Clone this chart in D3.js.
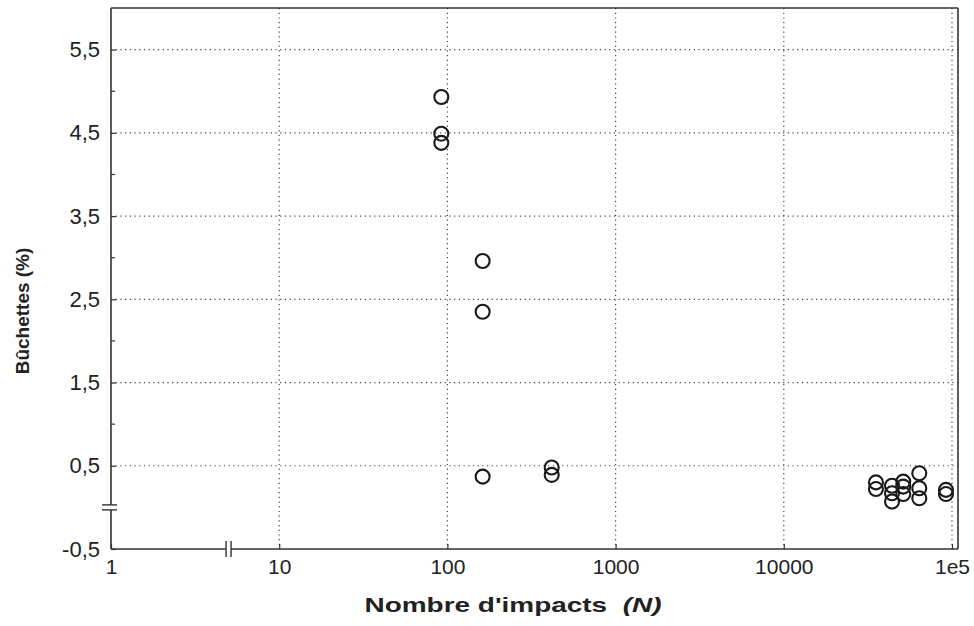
<!DOCTYPE html>
<html>
<head>
<meta charset="utf-8">
<script src="https://cdn.jsdelivr.net/npm/d3@7"></script>
<style>
  html, body { margin: 0; padding: 0; background: #fff; }
  svg { display: block; font-family: "Liberation Sans", Arial, sans-serif; }
</style>
</head>
<body>
<svg id="chart" width="974" height="626"></svg>
<script>
// ---- Data ----
const impacts = [92, 92, 92, 162, 162, 162, 417, 417,
  35300, 35300, 44000, 44000, 44000, 51300, 51300, 51300,
  63900, 63900, 63900, 92100, 92100];
const buchettes = [4.93, 4.49, 4.38, 2.96, 2.35, 0.37, 0.48, 0.39,
  0.30, 0.22, 0.26, 0.17, 0.07, 0.31, 0.25, 0.16,
  0.41, 0.23, 0.11, 0.21, 0.16];

const xTickValues = [1, 10, 100, 1000, 10000, 100000];
const xTickLabels = ["1", "10", "100", "1000", "10000", "1e5"];
const yTickValues = [-0.5, 0.5, 1.5, 2.5, 3.5, 4.5, 5.5];
const yTickLabels = ["-0,5", "0,5", "1,5", "2,5", "3,5", "4,5", "5,5"];
const yMinorTicks = [0, 1, 2, 3, 4, 5];
const xBreakValue = 5;
const yBreakValue = 0;

// ---- Layout ----
const svg = d3.select("#chart");
const pL = 111, pR = 958, pT = 8, pB = 549;
const x = d3.scaleLog().domain([1, 100000]).range([pL, 952]);
const y = d3.scaleLinear().domain([-0.5, 6]).range([pB, pT]);

const ink = "#333";

// gridlines (dotted)
const grid = svg.append("g");
grid.selectAll("line.vg").data(xTickValues.slice(1)).join("line")
  .attr("x1", d => x(d)).attr("x2", d => x(d))
  .attr("y1", pT).attr("y2", pB)
  .attr("stroke", "#444").attr("stroke-width", 1.2)
  .attr("stroke-dasharray", "1.2,3.5");
grid.selectAll("line.hg").data(yTickValues.slice(1)).join("line")
  .attr("x1", pL).attr("x2", pR)
  .attr("y1", d => y(d)).attr("y2", d => y(d))
  .attr("stroke", "#444").attr("stroke-width", 1.2)
  .attr("stroke-dasharray", "1.2,3.5");

// frame
const frame = svg.append("g").attr("stroke", ink).attr("stroke-width", 1.6).attr("fill", "none");
frame.append("line").attr("x1", pL).attr("x2", pR).attr("y1", pT).attr("y2", pT);
frame.append("line").attr("x1", pR).attr("x2", pR).attr("y1", pT).attr("y2", pB);
frame.append("line").attr("x1", pL).attr("x2", pR).attr("y1", pB).attr("y2", pB);
frame.append("line").attr("x1", pL).attr("x2", pL).attr("y1", pT).attr("y2", pB);

// axes via d3 (ticks inward, labels)
const xAxis = d3.axisBottom(x).tickValues(xTickValues)
  .tickFormat((d, i) => xTickLabels[i]).tickSize(-5).tickPadding(10);
const gx = svg.append("g").attr("transform", `translate(0,${pB})`).call(xAxis);
gx.select(".domain").remove();
gx.selectAll(".tick line").attr("stroke", ink).attr("stroke-width", 1.2);
gx.selectAll(".tick text").attr("font-size", 21).attr("fill", "#222");

const yAxis = d3.axisLeft(y).tickValues(yTickValues)
  .tickFormat((d, i) => yTickLabels[i]).tickSize(-5).tickPadding(11);
const gy = svg.append("g").attr("transform", `translate(${pL},0)`).call(yAxis);
gy.select(".domain").remove();
gy.selectAll(".tick line").attr("stroke", ink).attr("stroke-width", 1.2);
gy.selectAll(".tick text").attr("font-size", 22).attr("fill", "#222");

// minor ticks on y axis
svg.append("g").selectAll("line").data(yMinorTicks.filter(d => d !== yBreakValue)).join("line")
  .attr("x1", pL).attr("x2", pL + 4)
  .attr("y1", d => y(d)).attr("y2", d => y(d))
  .attr("stroke", ink).attr("stroke-width", 1.2);

// axis breaks
const yb = y(yBreakValue);
svg.append("rect").attr("x", pL - 3).attr("y", yb - 2.5).attr("width", 6).attr("height", 5).attr("fill", "#fff");
svg.append("g").selectAll("line").data([-2.5, 2.5]).join("line")
  .attr("x1", pL - 9).attr("x2", pL + 6)
  .attr("y1", d => yb + d).attr("y2", d => yb + d)
  .attr("stroke", ink).attr("stroke-width", 1.4);
const xb = x(xBreakValue);
svg.append("rect").attr("x", xb - 2.5).attr("y", pB - 3).attr("width", 5).attr("height", 6).attr("fill", "#fff");
svg.append("g").selectAll("line").data([-2.5, 2.5]).join("line")
  .attr("x1", d => xb + d).attr("x2", d => xb + d)
  .attr("y1", pB - 8).attr("y2", pB + 8)
  .attr("stroke", ink).attr("stroke-width", 1.4);

// points
svg.append("g").selectAll("circle").data(impacts.map((d, i) => [d, buchettes[i]])).join("circle")
  .attr("cx", d => x(d[0])).attr("cy", d => y(d[1])).attr("r", 7)
  .attr("fill", "none").attr("stroke", "#1a1a1a").attr("stroke-width", 2.1);

// axis titles
const xt = svg.append("text").attr("x", 513).attr("y", 612)
  .attr("text-anchor", "middle").attr("font-size", 21).attr("font-weight", "bold").attr("fill", "#222")
  .attr("textLength", 297).attr("lengthAdjust", "spacingAndGlyphs");
xt.append("tspan").text("Nombre d'impacts\u00a0\u00a0");
xt.append("tspan").attr("font-style", "italic").text("(N)");

svg.append("text").attr("transform", "translate(29,311) rotate(-90)")
  .attr("text-anchor", "middle").attr("font-size", 19).attr("font-weight", "bold").attr("fill", "#222")
  .text("Bûchettes (%)");
</script>
</body>
</html>
